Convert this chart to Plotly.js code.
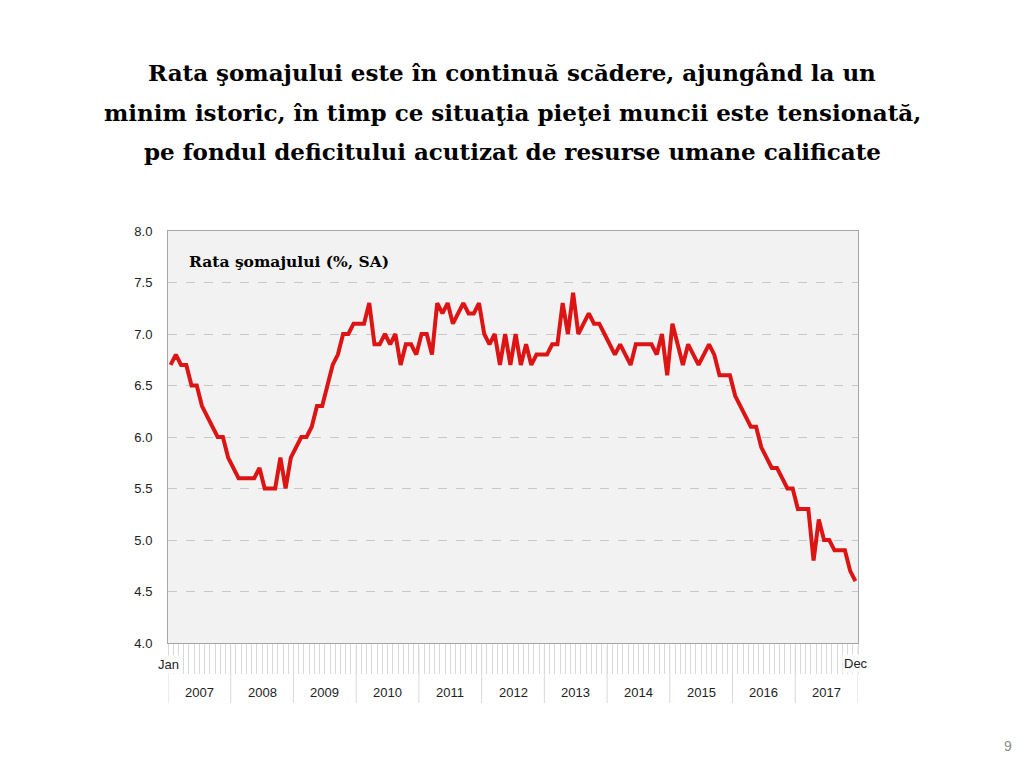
<!DOCTYPE html>
<html>
<head>
<meta charset="utf-8">
<script src="https://cdn.plot.ly/plotly-3.0.1.min.js"></script>
<style>
html,body{margin:0;padding:0;background:#ffffff;}
#chart{width:1024px;height:768px;}
</style>
</head>
<body>
<div id="chart"></div>
<script>
// Years shown on the lower axis row
const years = [2007, 2008, 2009, 2010, 2011, 2012, 2013, 2014, 2015, 2016, 2017];
// Edge month labels
const monthEdgeLabels = ["Jan", "Dec"];
// Unemployment rate (%, SA), monthly Jan 2007 – Dec 2017
const rate = [
  6.7, 6.8, 6.7, 6.7, 6.5, 6.5, 6.3, 6.2, 6.1, 6.0, 6.0, 5.8,   // 2007
  5.7, 5.6, 5.6, 5.6, 5.6, 5.7, 5.5, 5.5, 5.5, 5.8, 5.5, 5.8,   // 2008
  5.9, 6.0, 6.0, 6.1, 6.3, 6.3, 6.5, 6.7, 6.8, 7.0, 7.0, 7.1,   // 2009
  7.1, 7.1, 7.3, 6.9, 6.9, 7.0, 6.9, 7.0, 6.7, 6.9, 6.9, 6.8,   // 2010
  7.0, 7.0, 6.8, 7.3, 7.2, 7.3, 7.1, 7.2, 7.3, 7.2, 7.2, 7.3,   // 2011
  7.0, 6.9, 7.0, 6.7, 7.0, 6.7, 7.0, 6.7, 6.9, 6.7, 6.8, 6.8,   // 2012
  6.8, 6.9, 6.9, 7.3, 7.0, 7.4, 7.0, 7.1, 7.2, 7.1, 7.1, 7.0,   // 2013
  6.9, 6.8, 6.9, 6.8, 6.7, 6.9, 6.9, 6.9, 6.9, 6.8, 7.0, 6.6,   // 2014
  7.1, 6.9, 6.7, 6.9, 6.8, 6.7, 6.8, 6.9, 6.8, 6.6, 6.6, 6.6,   // 2015
  6.4, 6.3, 6.2, 6.1, 6.1, 5.9, 5.8, 5.7, 5.7, 5.6, 5.5, 5.5,   // 2016
  5.3, 5.3, 5.3, 4.8, 5.2, 5.0, 5.0, 4.9, 4.9, 4.9, 4.7, 4.6    // 2017
];
const titleLines = [
  "Rata şomajului este în continuă scădere, ajungând la un",
  "minim istoric, în timp ce situaţia pieţei muncii este tensionată,",
  "pe fondul deficitului acutizat de resurse umane calificate"
];
const innerLabel = "Rata şomajului (%, SA)";
const pageNumber = "9";

const nMonths = rate.length;
const xMid = rate.map((v, i) => i + 0.5);
const monthBounds = [];
for (let i = 0; i <= nMonths; i++) monthBounds.push(i);

// pixel helpers (plot area 168..858 x, 231..643 y)
const plotTop = 231, plotBottom = 643, plotH = plotBottom - plotTop;
const py = (px) => (plotBottom - px) / plotH;
const pxX = (px) => (px - 168) / 690;

const shapes = [];
for (let k = 0; k <= years.length; k++) {
  shapes.push({
    type: "line", xref: "x", yref: "paper",
    x0: k * 12, x1: k * 12, y0: py(646), y1: py(703),
    line: {color: "#d9d9d9", width: 1}
  });
}

const annotations = [];
titleLines.forEach((t, j) => {
  annotations.push({
    text: "<b>" + t + "</b>", xref: "paper", yref: "paper",
    x: pxX(512), y: py([72, 112, 151][j]), xanchor: "center", yanchor: "middle",
    showarrow: false,
    font: {family: "DejaVu Serif", size: 23, color: "#000000"}
  });
});
years.forEach((yr, k) => {
  annotations.push({
    text: String(yr), xref: "x", yref: "paper",
    x: k * 12 + 6, y: py(692), xanchor: "center", yanchor: "middle",
    showarrow: false,
    font: {family: "Liberation Sans", size: 13, color: "#222222"}
  });
});
annotations.push({
  text: monthEdgeLabels[0], xref: "x", yref: "paper",
  x: 0, y: py(664), xanchor: "center", yanchor: "middle",
  showarrow: false, bgcolor: "#ffffff",
  font: {family: "Liberation Sans", size: 13, color: "#222222"}
});
annotations.push({
  text: monthEdgeLabels[1], xref: "x", yref: "paper",
  x: nMonths - 0.3, y: py(663), xanchor: "center", yanchor: "middle",
  showarrow: false, bgcolor: "#ffffff",
  font: {family: "Liberation Sans", size: 13, color: "#222222"}
});
annotations.push({
  text: "<b>" + innerLabel + "</b>", xref: "paper", yref: "paper",
  x: pxX(187), y: py(261), xanchor: "left", yanchor: "middle",
  showarrow: false,
  font: {family: "DejaVu Serif", size: 15.5, color: "#000000"}
});
annotations.push({
  text: pageNumber, xref: "paper", yref: "paper",
  x: pxX(1008), y: py(746), xanchor: "center", yanchor: "middle",
  showarrow: false,
  font: {family: "Liberation Sans", size: 14, color: "#8c8c8c"}
});

const trace = {
  x: xMid, y: rate, type: "scatter", mode: "lines",
  line: {color: "#dc1414", width: 4},
  hoverinfo: "skip"
};

const layout = {
  width: 1024, height: 768,
  margin: {l: 168, r: 166, t: 231, b: 125, pad: 0},
  paper_bgcolor: "#ffffff",
  plot_bgcolor: "#f2f2f2",
  showlegend: false,
  xaxis: {
    range: [0, nMonths], tickmode: "array", tickvals: monthBounds,
    ticks: "outside", ticklen: 30, tickcolor: "#d9d9d9", tickwidth: 1,
    showticklabels: false, showgrid: false, zeroline: false,
    showline: true, linecolor: "#a6a6a6", linewidth: 1, mirror: true,
    fixedrange: true
  },
  yaxis: {
    range: [4, 8], dtick: 0.5, tick0: 4, tickformat: ".1f",
    showgrid: true, gridcolor: "#c8c8c8", griddash: "dash", gridwidth: 1,
    zeroline: false, showline: true, linecolor: "#a6a6a6", linewidth: 1, mirror: true,
    ticks: "", ticklabelstandoff: 12,
    tickfont: {family: "Liberation Sans", size: 13, color: "#222222"},
    fixedrange: true
  },
  shapes: shapes,
  annotations: annotations
};

Plotly.newPlot("chart", [trace], layout, {staticPlot: true, displayModeBar: false});
</script>
</body>
</html>
